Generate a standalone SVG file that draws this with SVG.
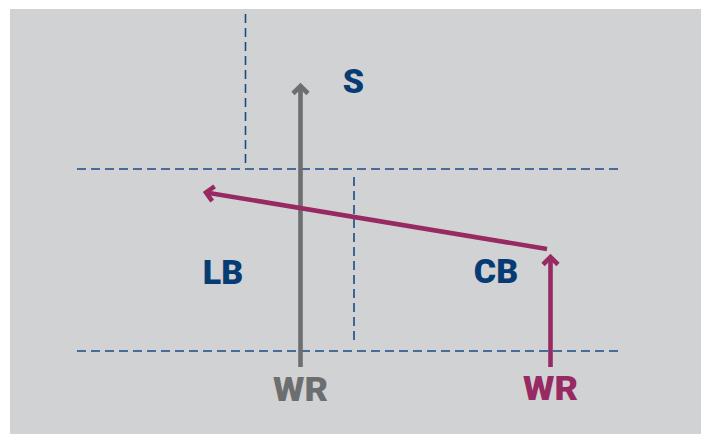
<svg xmlns="http://www.w3.org/2000/svg" width="701" height="434" viewBox="0 0 701 434">
  <style>
    .guide { fill: none; stroke: #1b4a82; stroke-width: 1.6; stroke-dasharray: 9 5; }
    .route-grey { fill: none; stroke: #6d6e70; stroke-width: 4.6; }
    .route-wine { fill: none; stroke: #982a63; stroke-width: 4.6; }
    .lbl { font-family: Roboto, "Liberation Sans", sans-serif; font-weight: 900; font-size: 34px; text-anchor: middle; }
    .navy { fill: #063b73; }
    .grey { fill: #6d6e70; }
    .wine { fill: #982a63; }
  </style>
  <defs>
    <marker id="head-grey" markerUnits="userSpaceOnUse" markerWidth="30" markerHeight="30" viewBox="-15 -15 30 30" refX="0" refY="0" orient="auto">
      <path d="M -7.5 -7.5 L 0 0 L -7.5 7.5" fill="none" stroke="#6d6e70" stroke-width="4.6" stroke-miterlimit="10"/>
    </marker>
    <marker id="head-wine" markerUnits="userSpaceOnUse" markerWidth="30" markerHeight="30" viewBox="-15 -15 30 30" refX="0" refY="0" orient="auto">
      <path d="M -7.5 -7.5 L 0 0 L -7.5 7.5" fill="none" stroke="#982a63" stroke-width="4.6" stroke-miterlimit="10"/>
    </marker>
  </defs>

  <rect x="10" y="9" width="691" height="425" fill="#d1d2d4"/>

  <g id="guides">
    <line class="guide" x1="77" y1="169" x2="619" y2="169"/>
    <line class="guide" x1="77" y1="351" x2="619" y2="351"/>
    <line class="guide" x1="245.5" y1="14" x2="245.5" y2="163"/>
    <line class="guide" x1="354" y1="177" x2="354" y2="340"/>
  </g>

  <g id="connectors">
    <line class="route-grey" x1="300.5" y1="367" x2="300.5" y2="86" marker-end="url(#head-grey)"/>
    <line class="route-wine" x1="547" y1="249" x2="206" y2="192.5" marker-end="url(#head-wine)"/>
    <line class="route-wine" x1="550.5" y1="367" x2="550.5" y2="257" marker-end="url(#head-wine)"/>
  </g>

  <g id="node-s"><text class="lbl navy" x="353.5" y="93">S</text></g>
  <g id="node-lb"><text class="lbl navy" x="223" y="284">LB</text></g>
  <g id="node-cb"><text class="lbl navy" x="496" y="283">CB</text></g>
  <g id="node-wr-grey"><text class="lbl grey" x="300.5" y="401" textLength="55" lengthAdjust="spacingAndGlyphs">WR</text></g>
  <g id="node-wr-wine"><text class="lbl wine" x="550.5" y="400" textLength="55" lengthAdjust="spacingAndGlyphs">WR</text></g>
</svg>
